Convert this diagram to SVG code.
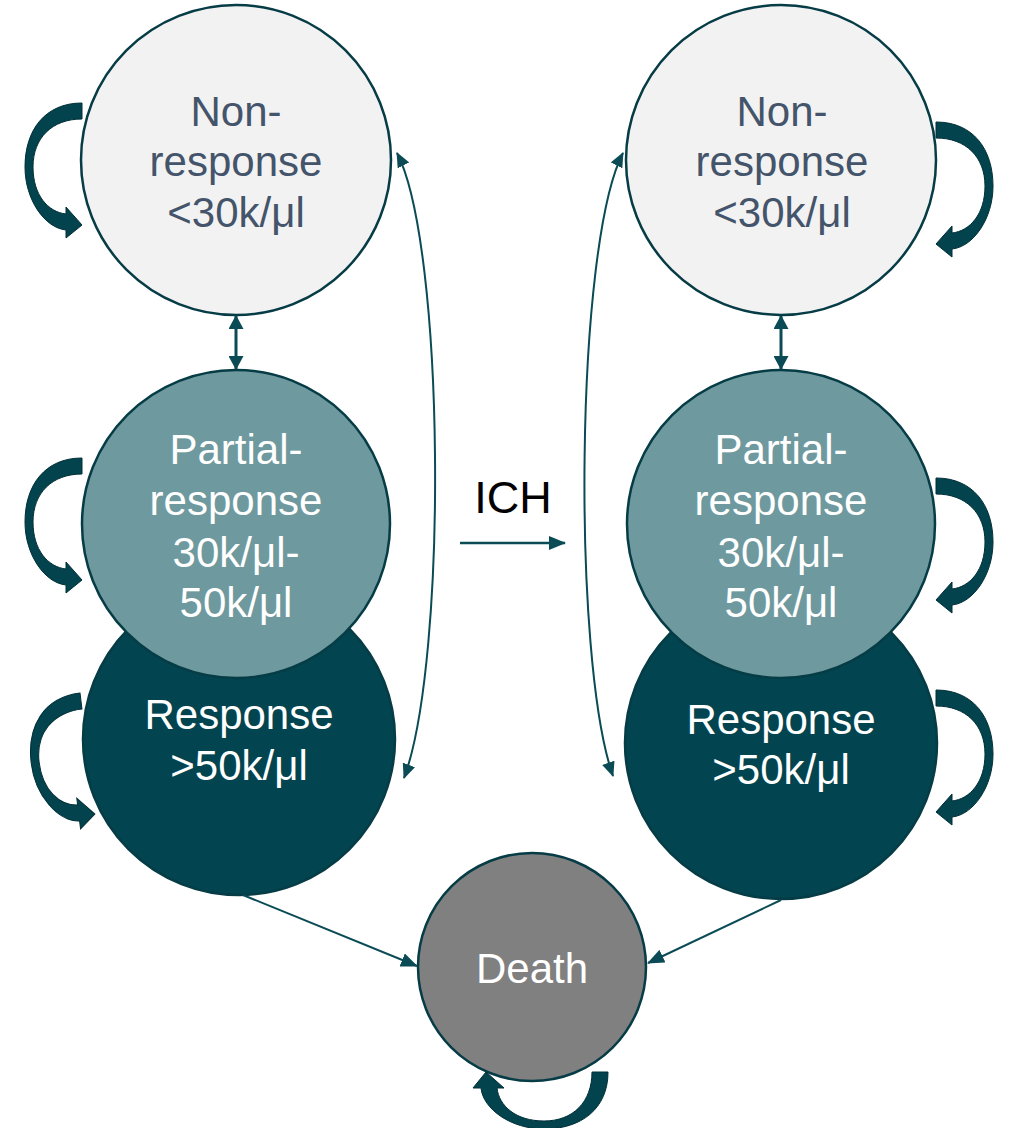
<svg xmlns="http://www.w3.org/2000/svg" width="1010" height="1128" viewBox="0 0 1010 1128">
<style>
.node{stroke:#063c45;stroke-width:2.5}
.nr{fill:#f2f2f2}
.pr{fill:#6e999e}
.rs{fill:#02444f}
.dt{fill:#808080}
.lbl{font-family:"Liberation Sans",Arial,sans-serif;font-size:42px;text-anchor:middle}
.dark{fill:#44546a}
.light{fill:#ffffff}
.conn{fill:none;stroke:#0a4b56}
.loop{fill:#03434e;stroke:#012f37;stroke-width:1}
</style>
<defs>
<marker id="ah" markerUnits="userSpaceOnUse" markerWidth="15" markerHeight="13" refX="14" refY="6.5" orient="auto-start-reverse"><path d="M0,0 L15,6.5 L0,13 z" fill="#0a4b56"/></marker>
<marker id="ahL" markerUnits="userSpaceOnUse" markerWidth="17" markerHeight="14" refX="16" refY="7" orient="auto-start-reverse"><path d="M0,0 L17,7 L0,14 z" fill="#0a4b56"/></marker>
<marker id="ahD" markerUnits="userSpaceOnUse" markerWidth="14" markerHeight="15" refX="13" refY="7.5" orient="auto-start-reverse"><path d="M0,0 L14,7.5 L0,15 z" fill="#0a4b56"/></marker>
<path id="loopShape" d="M0,0 C-37,0 -57,27 -57,64 C-57,97 -37,125 -16,127 L-16,135 L0,122 L-16,104 L-16,111 C-34,109 -49,92 -49,64 C-49,35 -30,16 0,16 Z"/>
</defs>

<g id="node-left-response">
<circle class="node rs" cx="239" cy="739" r="156"/>
<text class="lbl light" x="239" y="729">Response</text>
<text class="lbl light" x="239" y="780">&gt;50k/μl</text>
</g>
<g id="node-left-partial">
<circle class="node pr" cx="236" cy="524" r="154"/>
<text class="lbl light" x="236" y="464">Partial-</text>
<text class="lbl light" x="236" y="515">response</text>
<text class="lbl light" x="236" y="567">30k/μl-</text>
<text class="lbl light" x="236" y="617">50k/μl</text>
</g>
<g id="node-left-nonresponse">
<circle class="node nr" cx="236" cy="160" r="155"/>
<text class="lbl dark" x="236" y="126">Non-</text>
<text class="lbl dark" x="236" y="176">response</text>
<text class="lbl dark" x="236" y="227">&lt;30k/μl</text>
</g>

<g id="node-right-response">
<circle class="node rs" cx="781" cy="743" r="156"/>
<text class="lbl light" x="781" y="734">Response</text>
<text class="lbl light" x="781" y="784">&gt;50k/μl</text>
</g>
<g id="node-right-partial">
<circle class="node pr" cx="781" cy="524" r="154"/>
<text class="lbl light" x="781" y="464">Partial-</text>
<text class="lbl light" x="781" y="515">response</text>
<text class="lbl light" x="781" y="567">30k/μl-</text>
<text class="lbl light" x="781" y="617">50k/μl</text>
</g>
<g id="node-right-nonresponse">
<circle class="node nr" cx="781" cy="160" r="155"/>
<text class="lbl dark" x="782" y="126">Non-</text>
<text class="lbl dark" x="782" y="176">response</text>
<text class="lbl dark" x="782" y="227">&lt;30k/μl</text>
</g>

<g id="node-death">
<circle class="node dt" cx="532" cy="967" r="114"/>
<text class="lbl light" x="532" y="983">Death</text>
</g>

<g id="label-ich">
<text x="513" y="513" font-family="Liberation Sans, Arial, sans-serif" font-size="45" text-anchor="middle" fill="#000000">ICH</text>
</g>

<g id="connectors">
<path class="conn" stroke-width="2" d="M397,153 C445,245 448,660 404,778" marker-start="url(#ah)" marker-end="url(#ah)"/>
<path class="conn" stroke-width="2" d="M623,153 C575,245 572,660 613,776" marker-start="url(#ah)" marker-end="url(#ah)"/>
<path class="conn" stroke-width="3" d="M236,316 L236,369" marker-start="url(#ahD)" marker-end="url(#ahD)"/>
<path class="conn" stroke-width="3" d="M781,316 L781,369" marker-start="url(#ahD)" marker-end="url(#ahD)"/>
<path class="conn" stroke-width="2.5" d="M460,543 L565,543" marker-end="url(#ahL)"/>
<path class="conn" stroke-width="2" d="M243,895 L417,966" marker-end="url(#ahL)"/>
<path class="conn" stroke-width="2" d="M781,900 L648,963" marker-end="url(#ahL)"/>
<use class="loop" href="#loopShape" transform="translate(82,103)"/>
<use class="loop" href="#loopShape" transform="translate(82,458)"/>
<use class="loop" href="#loopShape" transform="translate(80,693) rotate(-7)"/>
<use class="loop" href="#loopShape" transform="translate(936,122) scale(-1,1)"/>
<use class="loop" href="#loopShape" transform="translate(936,478) scale(-1,1)"/>
<use class="loop" href="#loopShape" transform="translate(936,690) scale(-1,1)"/>
<use class="loop" href="#loopShape" transform="matrix(0,-1,-1,0,608,1072)"/>
</g>
</svg>
